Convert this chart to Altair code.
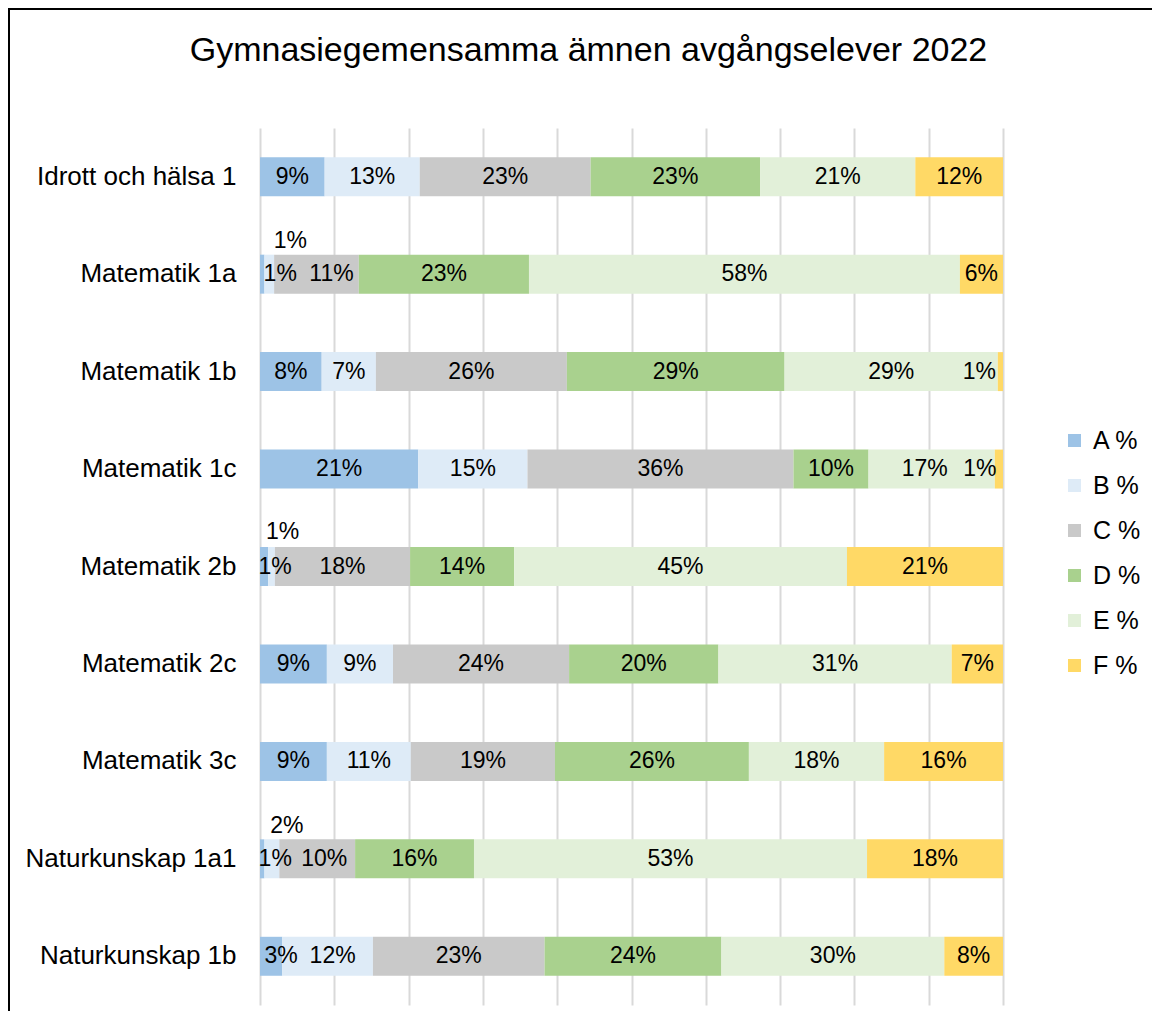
import altair as alt
import pandas as pd

FONT = "Liberation Sans"

subjects = ["Idrott och hälsa 1", "Matematik 1a", "Matematik 1b", "Matematik 1c",
            "Matematik 2b", "Matematik 2c", "Matematik 3c", "Naturkunskap 1a1",
            "Naturkunskap 1b"]
grades = ["A %", "B %", "C %", "D %", "E %", "F %"]
a_pct = [8.7, 0.6, 8.3, 21.3, 1.1, 9.0, 9.0, 0.6, 3.0]
b_pct = [12.8, 1.3, 7.3, 14.7, 0.9, 8.9, 11.3, 2.0, 12.2]
c_pct = [23.0, 11.4, 25.7, 35.8, 18.2, 23.7, 19.4, 10.2, 23.1]
d_pct = [22.8, 22.9, 29.3, 10.1, 14.0, 20.1, 26.1, 16.0, 23.8]
e_pct = [20.9, 58.0, 28.7, 17.0, 44.8, 31.4, 18.2, 52.9, 30.0]
f_pct = [11.8, 5.8, 0.7, 1.1, 21.0, 6.9, 16.0, 18.3, 7.9]
colors = ["#9DC3E6", "#DEEBF7", "#C9C9C9", "#A9D18E", "#E2F0D9", "#FFD966"]
title_text = "Gymnasiegemensamma ämnen avgångselever 2022"

series = [a_pct, b_pct, c_pct, d_pct, e_pct, f_pct]
rows = []
for gi, (g, vals) in enumerate(zip(grades, series)):
    for s, v in zip(subjects, vals):
        rows.append({"subject": s, "grade": g, "gorder": gi, "value": v})
df = pd.DataFrame(rows)

base = alt.Chart(df)

bars = base.mark_bar().encode(
    x=alt.X("value:Q", stack="zero",
            scale=alt.Scale(domain=[0, 100], nice=False),
            axis=alt.Axis(values=list(range(0, 101, 10)), labels=False, ticks=False,
                          domain=False, grid=True, gridColor="#d9d9d9", gridWidth=2,
                          title=None)),
    y=alt.Y("subject:N", sort=subjects,
            scale=alt.Scale(paddingInner=0.6, paddingOuter=0.3),
            axis=alt.Axis(title=None, ticks=False, domain=False, labelFontSize=26,
                          labelPadding=24, labelLimit=400, labelColor="black",
                          labelFont=FONT)),
    color=alt.Color("grade:N", scale=alt.Scale(domain=grades, range=colors),
                    legend=alt.Legend(title=None, orient="none", legendX=802, legendY=300,
                                      symbolType="square", symbolSize=169,
                                      labelFontSize=25, labelFont=FONT, labelColor="black",
                                      rowPadding=19, labelOffset=6, padding=0,
                                      symbolStrokeWidth=0)),
    order=alt.Order("gorder:Q"),
)

stacked = base.transform_stack(
    stack="value", groupby=["subject"],
    sort=[alt.SortField("gorder", order="ascending")], as_=["x0", "x1"]
).transform_calculate(
    mid="(datum.x0 + datum.x1) / 2",
    label="format(datum.value, '.0f') + '%'"
)

# label nudges for small segments: (subject, grade, dx, dy)
tweaks = [
    ("Matematik 1a", "A %", 18, 0),
    ("Matematik 1a", "B %", 21, -33),
    ("Matematik 1a", "C %", 15, 0),
    ("Matematik 1b", "F %", -21, 0),
    ("Matematik 1c", "E %", -7, 0),
    ("Matematik 1c", "F %", -19, 0),
    ("Matematik 2b", "A %", 11, 0),
    ("Matematik 2b", "B %", 11, -35),
    ("Naturkunskap 1a1", "A %", 13, 0),
    ("Naturkunskap 1a1", "B %", 15, -33),
    ("Naturkunskap 1a1", "C %", 7, 0),
    ("Naturkunskap 1b", "A %", 10, 0),
    ("Naturkunskap 1b", "B %", 5, 0),
]

def cond(s, g):
    return f"(datum.subject == '{s}' && datum.grade == '{g}')"

text_kw = dict(font=FONT, fontSize=23, color="black", align="center", baseline="middle")
enc = dict(x=alt.X("mid:Q"), y=alt.Y("subject:N", sort=subjects), text="label:N")

excl = " || ".join(cond(s, g) for s, g, _, _ in tweaks)
main_text = stacked.transform_filter(f"!({excl})").mark_text(**text_kw).encode(**enc)

tweak_layers = []
for s, g, dx, dy in tweaks:
    tweak_layers.append(
        stacked.transform_filter(cond(s, g)).mark_text(dx=dx, dy=dy, **text_kw).encode(**enc)
    )

frame = alt.Chart(pd.DataFrame({"k": [0]})).mark_rect(
    fillOpacity=0, stroke="black", strokeWidth=2
).encode(x=alt.value(-251), x2=alt.value(1300), y=alt.value(-119), y2=alt.value(1200))

chart = alt.layer(frame, bars, main_text, *tweak_layers).properties(
    width=743, height=877,
    autosize=alt.AutoSizeParams(type="none"),
    padding={"left": 252, "top": 120, "right": 149, "bottom": 6},
    title=alt.TitleParams(title_text, fontSize=34, font=FONT, fontWeight="normal",
                          color="black", anchor="middle", dx=-43, offset=-87,
                          baseline="alphabetic"),
).configure_view(stroke=None)

chart.save("out.html", embed_options={"renderer": "svg", "actions": False})
